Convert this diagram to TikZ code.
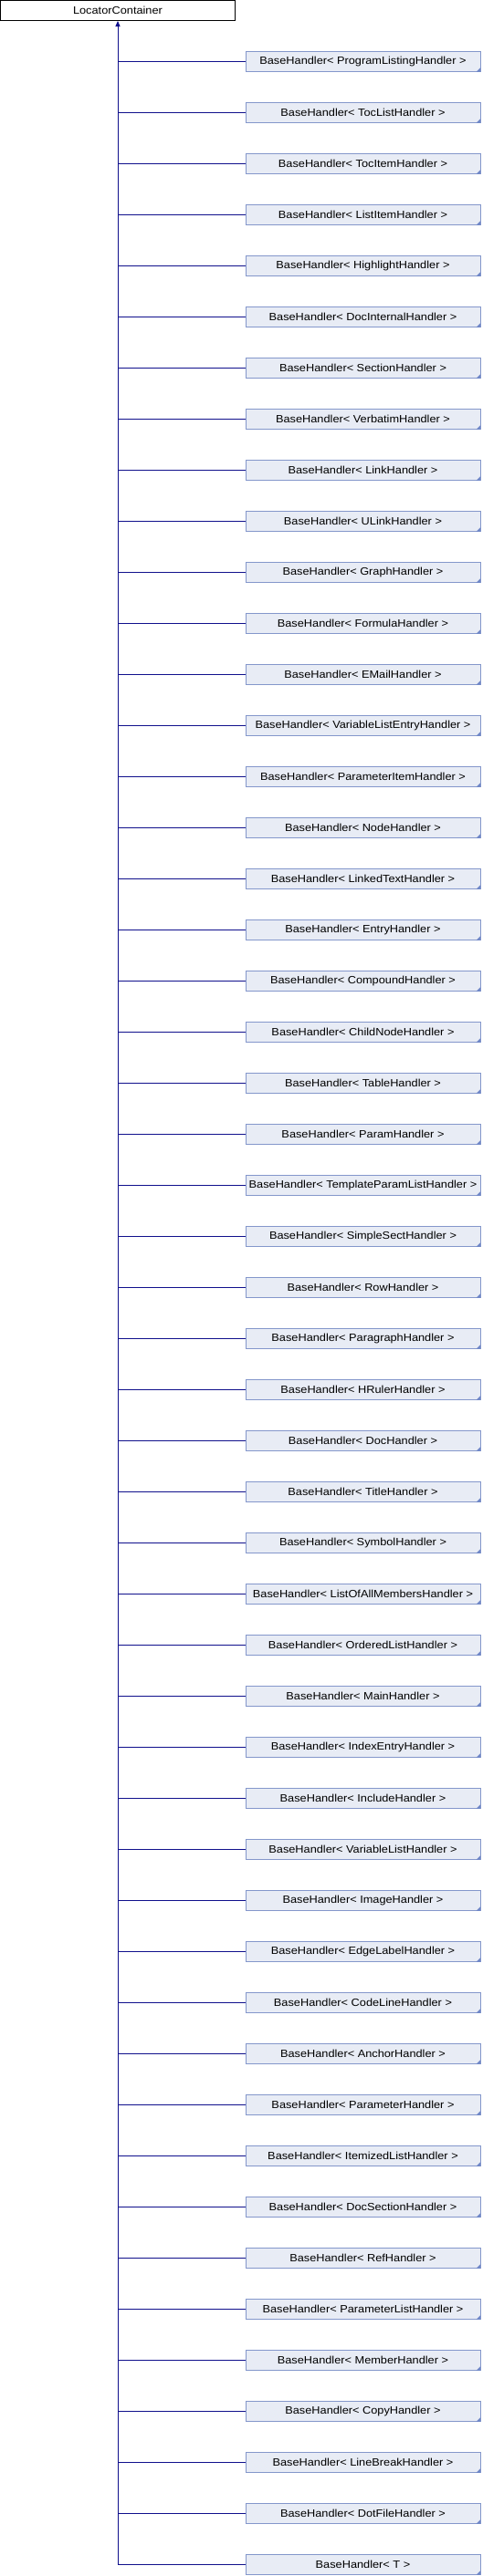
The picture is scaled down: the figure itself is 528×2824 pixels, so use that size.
\documentclass[tikz,border=0pt]{standalone}
\usepackage{fontspec}
\setmainfont{Liberation Sans}[FakeStretch=1.1]
\usetikzlibrary{arrows.meta}
\definecolor{boxfill}{RGB}{232,236,245}
\definecolor{boxline}{RGB}{132,151,203}
\definecolor{foldcol}{RGB}{112,136,200}
\definecolor{inhcol}{RGB}{16,16,140}
\begin{document}
\begin{tikzpicture}[x=1pt,y=1pt,
  labelfont/.style={font=\fontsize{11.6}{13}\selectfont},
  rootbox/.style={draw=black, fill=white, line width=1pt, minimum width=257pt, minimum height=22pt, inner sep=0pt, labelfont},
  childbox/.style={draw=boxline, fill=boxfill, line width=1pt, minimum width=257pt, minimum height=22pt, inner sep=0pt, labelfont},
  inhline/.style={draw=inhcol, line width=1pt}]
\useasboundingbox (0,0) rectangle (528,-2824);
\node[rootbox] (root) at (129,-11.5) {LocatorContainer};
\foreach \n [count=\i] in {ProgramListingHandler, TocListHandler, TocItemHandler, ListItemHandler, HighlightHandler, DocInternalHandler, SectionHandler, VerbatimHandler, LinkHandler, ULinkHandler, GraphHandler, FormulaHandler, EMailHandler, VariableListEntryHandler, ParameterItemHandler, NodeHandler, LinkedTextHandler, EntryHandler, CompoundHandler, ChildNodeHandler, TableHandler, ParamHandler, TemplateParamListHandler, SimpleSectHandler, RowHandler, ParagraphHandler, HRulerHandler, DocHandler, TitleHandler, SymbolHandler, ListOfAllMembersHandler, OrderedListHandler, MainHandler, IndexEntryHandler, IncludeHandler, VariableListHandler, ImageHandler, EdgeLabelHandler, CodeLineHandler, AnchorHandler, ParameterHandler, ItemizedListHandler, DocSectionHandler, RefHandler, ParameterListHandler, MemberHandler, CopyHandler, LineBreakHandler, DotFileHandler, T} {
  \node[childbox] (c\i) at (397.5, {-(67.8+56*(\i-1))}) {BaseHandler< \n{} >};
  \fill[foldcol] ([xshift=-0.5pt,yshift=0.5pt]c\i.south east) -- ++(0,4.5) -- ++(-4.5,-4.5) -- cycle;
  \coordinate (j\i) at (129, {-(67.8+56*(\i-1))});
  \draw[inhline] (j\i) -- (c\i.west);
}
\draw[inhline, -{Triangle[width=5pt,length=6pt]}] (j50) -- (root.south);
\end{tikzpicture}
\end{document}
